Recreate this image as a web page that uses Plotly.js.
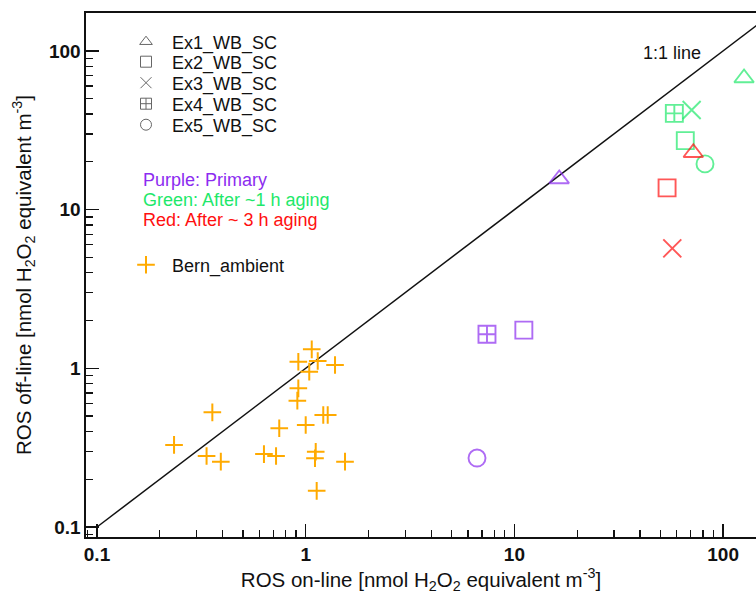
<!DOCTYPE html>
<html><head><meta charset="utf-8">
<script src="https://cdn.plot.ly/plotly-3.0.1.min.js"></script>
<style>body{margin:0;background:#fff;}</style>
</head><body><div id="chart" style="width:756px;height:596px;"></div>
<script>
// ---- data ----
const experiments = ['Ex1_WB_SC','Ex2_WB_SC','Ex3_WB_SC','Ex4_WB_SC','Ex5_WB_SC'];
const primaryExp = ['Ex1_WB_SC','Ex2_WB_SC','Ex4_WB_SC','Ex5_WB_SC'];
const primaryOnline = [16.4, 11.1, 7.39, 6.62];
const primaryOffline = [15.6, 1.74, 1.64, 0.272];
const aging1hExp = ['Ex1_WB_SC','Ex2_WB_SC','Ex3_WB_SC','Ex4_WB_SC','Ex5_WB_SC'];
const aging1hOnline = [126, 65.9, 70.7, 58.4, 81.9];
const aging1hOffline = [67.5, 27.2, 42.4, 40.4, 19.4];
const aging3hExp = ['Ex1_WB_SC','Ex2_WB_SC','Ex3_WB_SC'];
const aging3hOnline = [72.0, 53.9, 57.1];
const aging3hOffline = [22.8, 13.7, 5.70];
const bernOnline = [1.069, 0.922, 1.142, 1.040, 1.382, 0.922, 0.912, 0.357, 1.214, 1.275, 0.747,
                    1.000, 0.234, 0.335, 0.392, 0.631, 0.721, 1.117, 1.108, 1.543, 1.129];
const bernOffline = [1.317, 1.100, 1.112, 0.952, 1.049, 0.748, 0.625, 0.528, 0.508, 0.508, 0.419,
                     0.439, 0.329, 0.280, 0.258, 0.288, 0.280, 0.298, 0.271, 0.258, 0.169];
const oneToOne = [0.1, 1000];
const majorTicks = [0.1, 1, 10, 100];
const majorTickLabels = ['0.1', '1', '10', '100'];
const colorNotes = ['Purple: Primary', 'Green: After ~1 h aging', 'Red: After ~ 3 h aging'];

// ---- styles ----
const FONT = 'Liberation Sans, Arial, sans-serif';
const PURPLE = '#8c2cf0', GREEN = '#1ee86a', RED = '#ff1010', ORANGE = '#ffaa00', GREY = '#666666';
const symbolOf = {
  'Ex1_WB_SC': 'triangle-up-open', 'Ex2_WB_SC': 'square-open', 'Ex3_WB_SC': 'x-thin-open',
  'Ex4_WB_SC': 'square-cross-open', 'Ex5_WB_SC': 'circle-open'
};
const sizeOf = {
  'Ex1_WB_SC': 17, 'Ex2_WB_SC': 17, 'Ex3_WB_SC': 18, 'Ex4_WB_SC': 17, 'Ex5_WB_SC': 17
};
const minorTicks = [];
for (let k = -2; k <= 2; k++) for (let m = 2; m <= 9; m++) minorTicks.push(m * Math.pow(10, k));

function group(name, exps, xs, ys, color) {
  return {
    type: 'scatter', mode: 'markers', name: name, x: xs, y: ys, showlegend: false,
    marker: {
      symbol: exps.map(e => symbolOf[e]), size: exps.map(e => sizeOf[e]),
      color: color, line: {color: color, width: 1.9}
    },
    cliponaxis: false
  };
}

const traces = [
  {type: 'scatter', mode: 'lines', x: oneToOne, y: oneToOne, showlegend: false,
   line: {color: '#111', width: 1.5}, hoverinfo: 'skip'},
  {type: 'scatter', mode: 'markers', name: 'Bern_ambient', x: bernOnline, y: bernOffline,
   legend: 'legend6',
   marker: {symbol: 'cross-thin-open', size: 12.6, color: ORANGE, line: {color: ORANGE, width: 2}}},
  group('Primary', primaryExp, primaryOnline, primaryOffline, PURPLE),
  group('After ~1 h aging', aging1hExp, aging1hOnline, aging1hOffline, GREEN),
  group('After ~3 h aging', aging3hExp, aging3hOnline, aging3hOffline, RED)
];
// legend key entries (grey symbols)
experiments.forEach((e, i) => {
  traces.push({
    type: 'scatter', mode: 'markers', name: e, x: [null], y: [null],
    legend: i === 0 ? 'legend' : 'legend' + (i + 1),
    marker: {symbol: symbolOf[e], size: 11, color: GREY, line: {color: GREY, width: 1}}
  });
});

const L = 86, T = 13, W = 670, H = 524;
function px(xp) { return (xp - L) / W; }
function py(yp) { return (T + H - yp) / H; }
const legendRows = [42, 62, 83, 104, 125];
function legendAt(yPix) {
  return {x: px(120), y: py(yPix), xanchor: 'left', yanchor: 'middle', itemwidth: 42,
          bgcolor: 'rgba(0,0,0,0)', borderwidth: 0, font: {family: FONT, size: 18, color: '#111'}};
}

const layout = {
  width: 756, height: 596,
  margin: {l: L, r: 756 - L - W, t: T, b: 596 - T - H},
  paper_bgcolor: '#fff', plot_bgcolor: '#fff',
  font: {family: FONT, size: 18, color: '#111'},
  xaxis: {
    type: 'log', range: [-1.0527, 2.1577], showgrid: false, zeroline: false,
    showline: true, linecolor: '#111', linewidth: 1.6, mirror: true,
    tickmode: 'array', tickvals: majorTicks, ticktext: majorTickLabels,
    ticks: 'inside', ticklen: 13, tickwidth: 1.5, tickcolor: '#111',
    tickfont: {family: FONT, size: 19, weight: 'bold', color: '#111'},
    minor: {tickmode: 'array', tickvals: minorTicks, ticks: 'inside', ticklen: 7, tickwidth: 1.3, tickcolor: '#111'},
    title: {text: 'ROS on-line [nmol H<sub>2</sub>O<sub>2</sub> equivalent m<sup>-3</sup>]',
            font: {family: FONT, size: 20.5, color: '#111'}, standoff: 8}
  },
  yaxis: {
    type: 'log', range: [-1.063, 2.2388], showgrid: false, zeroline: false,
    showline: true, linecolor: '#111', linewidth: 1.6,
    tickmode: 'array', tickvals: majorTicks, ticktext: majorTickLabels,
    ticks: 'inside', ticklen: 13, tickwidth: 1.5, tickcolor: '#111',
    tickfont: {family: FONT, size: 19, weight: 'bold', color: '#111'},
    minor: {tickmode: 'array', tickvals: minorTicks, ticks: 'inside', ticklen: 7, tickwidth: 1.3, tickcolor: '#111'},
    title: {text: 'ROS off-line [nmol H<sub>2</sub>O<sub>2</sub> equivalent m<sup>-3</sup>]',
            font: {family: FONT, size: 20.5, color: '#111'}, standoff: 12}
  },
  legend: legendAt(legendRows[0]),
  legend2: legendAt(legendRows[1]),
  legend3: legendAt(legendRows[2]),
  legend4: legendAt(legendRows[3]),
  legend5: legendAt(legendRows[4]),
  legend6: legendAt(265),
  annotations: [
    {xref: 'paper', yref: 'paper', x: px(703), y: py(53), xanchor: 'right', yanchor: 'middle',
     text: '1:1 line', showarrow: false, font: {family: FONT, size: 18, color: '#111'}},
    {xref: 'paper', yref: 'paper', x: px(141), y: py(180), xanchor: 'left', yanchor: 'middle',
     text: colorNotes[0], showarrow: false, font: {family: FONT, size: 18, color: PURPLE}},
    {xref: 'paper', yref: 'paper', x: px(141), y: py(200), xanchor: 'left', yanchor: 'middle',
     text: colorNotes[1], showarrow: false, font: {family: FONT, size: 18, color: GREEN}},
    {xref: 'paper', yref: 'paper', x: px(141), y: py(220), xanchor: 'left', yanchor: 'middle',
     text: colorNotes[2], showarrow: false, font: {family: FONT, size: 18, color: RED}}
  ],
  showlegend: true
};

Plotly.newPlot('chart', traces, layout, {displayModeBar: false, staticPlot: true});
</script>
</body></html>
